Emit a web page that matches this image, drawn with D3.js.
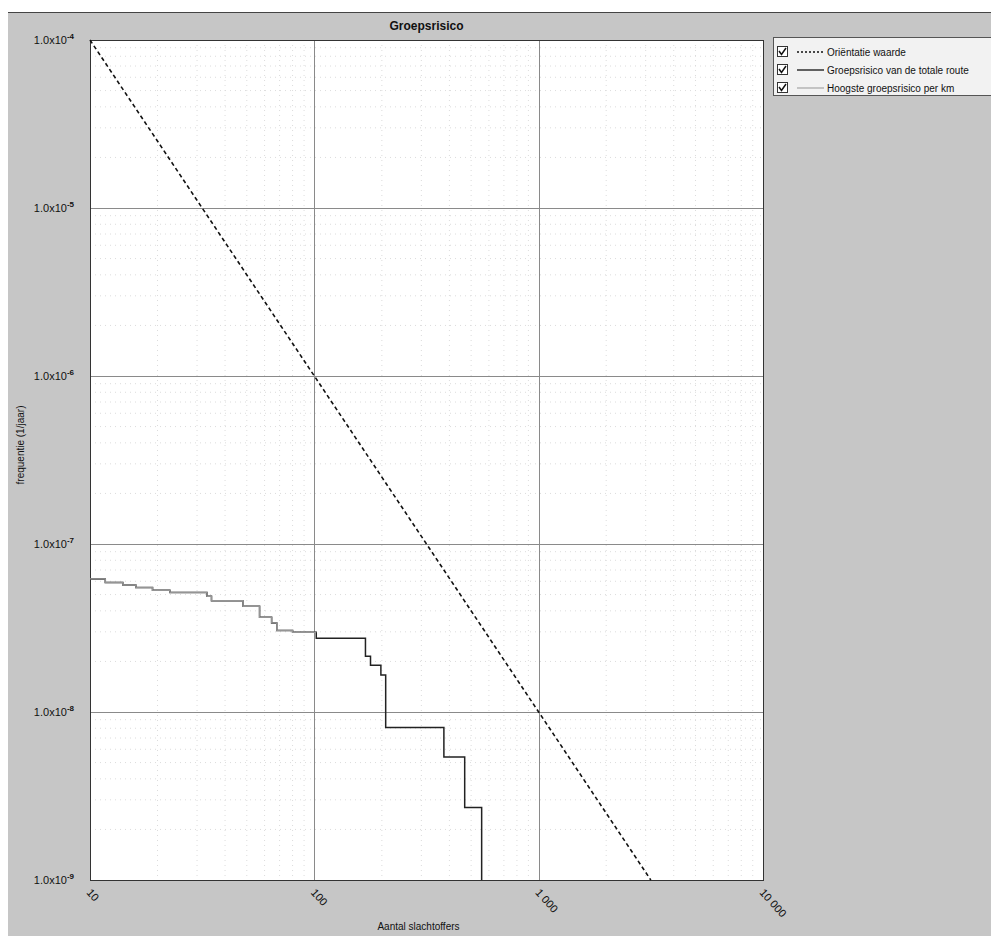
<!DOCTYPE html>
<html>
<head>
<meta charset="utf-8">
<script src="https://cdn.jsdelivr.net/npm/d3@7"></script>
<style>
	body {margin:0; background:#fff;}
	svg {display:block; font-family:"Liberation Sans", Arial, sans-serif;}
</style>
</head>
<body>
<div class="c_chart"></div>
<script>

/*DATA
------------------------------------------------------
------------------------------------------------------
*/

// orientatiewaarde (1e-2 / N^2)
const orientN = [10, 100, 1000, 3162];
const orientF = [1e-4, 1e-6, 1e-8, 1e-9];

// groepsrisico van de totale route (stappen)
const routeN = [10, 11.7, 14, 16, 19, 22.7, 33.2, 34.8, 48, 57, 64.5, 68, 80, 102, 169, 178, 198, 208, 378, 468, 557];
const routeF = [6.2e-8, 5.9e-8, 5.7e-8, 5.5e-8, 5.3e-8, 5.15e-8, 4.88e-8, 4.6e-8, 4.26e-8, 3.66e-8, 3.39e-8, 3.06e-8, 2.98e-8, 2.75e-8, 2.15e-8, 1.9e-8, 1.66e-8, 8.1e-9, 5.4e-9, 2.7e-9, 1e-9];

// hoogste groepsrisico per km
const kmN = [10, 11.7, 14, 16, 19, 22.7, 33.2, 34.8, 48, 57, 64.5, 68, 80, 102];
const kmF = [6.2e-8, 5.9e-8, 5.7e-8, 5.5e-8, 5.3e-8, 5.15e-8, 4.88e-8, 4.6e-8, 4.26e-8, 3.66e-8, 3.39e-8, 3.06e-8, 2.98e-8, 2.98e-8];

const xTicks = [10, 100, 1000, 10000];
const xTickLabels = ["10", "100", "1 000", "10 000"];
const yTicks = [1e-4, 1e-5, 1e-6, 1e-7, 1e-8, 1e-9];
const yTickExp = ["-4", "-5", "-6", "-7", "-8", "-9"];

const legendLabels = ["Oriëntatie waarde", "Groepsrisico van de totale route", "Hoogste groepsrisico per km"];


/*INITIATE
------------------------------------------------------
------------------------------------------------------
*/

let width = 991;
let height = 936;
const plot = {left:90, right:763, top:40, bottom:880};

let svg = d3.select(".c_chart")
	.append("svg")
	.attr("width", width)
	.attr("height", height);

/*panel achtergrond*/
svg.append("rect")
	.attr("x", 8).attr("y", 12)
	.attr("width", width - 8).attr("height", height - 12)
	.attr("fill", "#c6c6c6");
svg.append("line")
	.attr("x1", 8).attr("x2", width)
	.attr("y1", 12.5).attr("y2", 12.5)
	.attr("stroke", "#444");

const x = d3.scaleLog()
	.domain([10, 10000])
	.range([plot.left, plot.right]);

const y = d3.scaleLog()
	.domain([1e-9, 1e-4])
	.range([plot.bottom, plot.top]);

svg.append("rect")
	.attr("x", plot.left).attr("y", plot.top)
	.attr("width", plot.right - plot.left)
	.attr("height", plot.bottom - plot.top)
	.attr("fill", "#fff");


/*GRID
------------------------------------------------------
------------------------------------------------------
*/

let minorX = x.ticks().filter(d => xTicks.indexOf(d) < 0);
let minorY = y.ticks().filter(d => !yTicks.some(t => Math.abs(t - d) / d < 1e-6));

svg.append("g").selectAll("line")
	.data(minorX)
	.enter()
	.append("line")
	.attr("x1", d => x(d)).attr("x2", d => x(d))
	.attr("y1", plot.top).attr("y2", plot.bottom)
	.attr("stroke", "#dcdcdc")
	.attr("stroke-dasharray", "1,4");

svg.append("g").selectAll("line")
	.data(minorY)
	.enter()
	.append("line")
	.attr("x1", plot.left).attr("x2", plot.right)
	.attr("y1", d => y(d)).attr("y2", d => y(d))
	.attr("stroke", "#dcdcdc")
	.attr("stroke-dasharray", "1,4");

svg.append("g").selectAll("line")
	.data(xTicks)
	.enter()
	.append("line")
	.attr("x1", d => Math.round(x(d)) + 0.5).attr("x2", d => Math.round(x(d)) + 0.5)
	.attr("y1", plot.top).attr("y2", plot.bottom)
	.attr("stroke", "#8a8a8a");

svg.append("g").selectAll("line")
	.data(yTicks)
	.enter()
	.append("line")
	.attr("x1", plot.left).attr("x2", plot.right)
	.attr("y1", d => Math.round(y(d)) + 0.5).attr("y2", d => Math.round(y(d)) + 0.5)
	.attr("stroke", "#8a8a8a");

svg.append("rect")
	.attr("x", plot.left + 0.5).attr("y", plot.top + 0.5)
	.attr("width", plot.right - plot.left)
	.attr("height", plot.bottom - plot.top)
	.attr("fill", "none")
	.attr("stroke", "#333");


/*AXES
------------------------------------------------------
------------------------------------------------------
*/

let yLab = svg.append("g").selectAll("text")
	.data(yTicks)
	.enter()
	.append("text")
	.attr("x", plot.left - 16)
	.attr("y", d => y(d) + 4)
	.attr("text-anchor", "end")
	.attr("font-size", 11)
	.attr("fill", "#111");
yLab.append("tspan").text("1.0x10");
yLab.append("tspan")
	.attr("dy", -5)
	.attr("font-size", 8)
	.attr("font-weight", "bold")
	.text((d, i) => yTickExp[i]);

svg.append("g").selectAll("text")
	.data(xTicks)
	.enter()
	.append("text")
	.attr("transform", d => "translate(" + (x(d) - 4) + "," + (plot.bottom + 13) + ") rotate(48)")
	.attr("font-size", 11)
	.attr("fill", "#111")
	.text((d, i) => xTickLabels[i]);

svg.append("text")
	.attr("x", (plot.left + plot.right) / 2 - 8)
	.attr("y", 930)
	.attr("text-anchor", "middle")
	.attr("font-size", 10)
	.attr("fill", "#111")
	.text("Aantal slachtoffers");

svg.append("text")
	.attr("transform", "translate(24," + ((plot.top + plot.bottom) / 2 - 15) + ") rotate(-90)")
	.attr("text-anchor", "middle")
	.attr("font-size", 10)
	.attr("fill", "#111")
	.text("frequentie (1/jaar)");

svg.append("text")
	.attr("x", (plot.left + plot.right) / 2)
	.attr("y", 30)
	.attr("text-anchor", "middle")
	.attr("font-size", 12)
	.attr("font-weight", "bold")
	.attr("fill", "#111")
	.text("Groepsrisico");


/*LINES
------------------------------------------------------
------------------------------------------------------
*/

const stepLine = d3.line()
	.x(d => x(d[0]))
	.y(d => y(d[1]))
	.curve(d3.curveStepAfter);

const straight = d3.line()
	.x(d => x(d[0]))
	.y(d => y(d[1]));

svg.append("path")
	.attr("d", straight(d3.zip(orientN, orientF)))
	.attr("fill", "none")
	.attr("stroke", "#111")
	.attr("stroke-width", 1.6)
	.attr("stroke-dasharray", "4,3");

svg.append("path")
	.attr("d", stepLine(d3.zip(routeN, routeF)))
	.attr("fill", "none")
	.attr("stroke", "#222")
	.attr("stroke-width", 1.5);

svg.append("path")
	.attr("d", stepLine(d3.zip(kmN, kmF)))
	.attr("fill", "none")
	.attr("stroke", "#959595")
	.attr("stroke-width", 1.3);


/*LEGEND
------------------------------------------------------
------------------------------------------------------
*/

let legend = svg.append("g");

legend.append("rect")
	.attr("x", 773.5).attr("y", 37.5)
	.attr("width", 230).attr("height", 58)
	.attr("fill", "#f2f2f2")
	.attr("stroke", "#555");

let entry = legend.selectAll("g")
	.data(legendLabels)
	.enter()
	.append("g")
	.attr("transform", (d, i) => "translate(0," + (52 + i * 18) + ")");

entry.append("rect")
	.attr("x", 777.5).attr("y", -5.5)
	.attr("width", 10).attr("height", 10)
	.attr("fill", "#fff")
	.attr("stroke", "#333");

entry.append("path")
	.attr("d", "M779,-1 L781.5,2.5 L786,-4")
	.attr("fill", "none")
	.attr("stroke", "#111")
	.attr("stroke-width", 1.5);

entry.append("line")
	.attr("x1", 797).attr("x2", 824)
	.attr("y1", 0).attr("y2", 0)
	.attr("stroke", (d, i) => i == 2 ? "#959595" : "#111")
	.attr("stroke-width", (d, i) => i == 2 ? 1 : 1.3)
	.attr("stroke-dasharray", (d, i) => i == 0 ? "2,2" : null);

entry.append("text")
	.attr("x", 827)
	.attr("y", 3.5)
	.attr("font-size", 10)
	.attr("fill", "#111")
	.text(d => d);

</script>
</body>
</html>
